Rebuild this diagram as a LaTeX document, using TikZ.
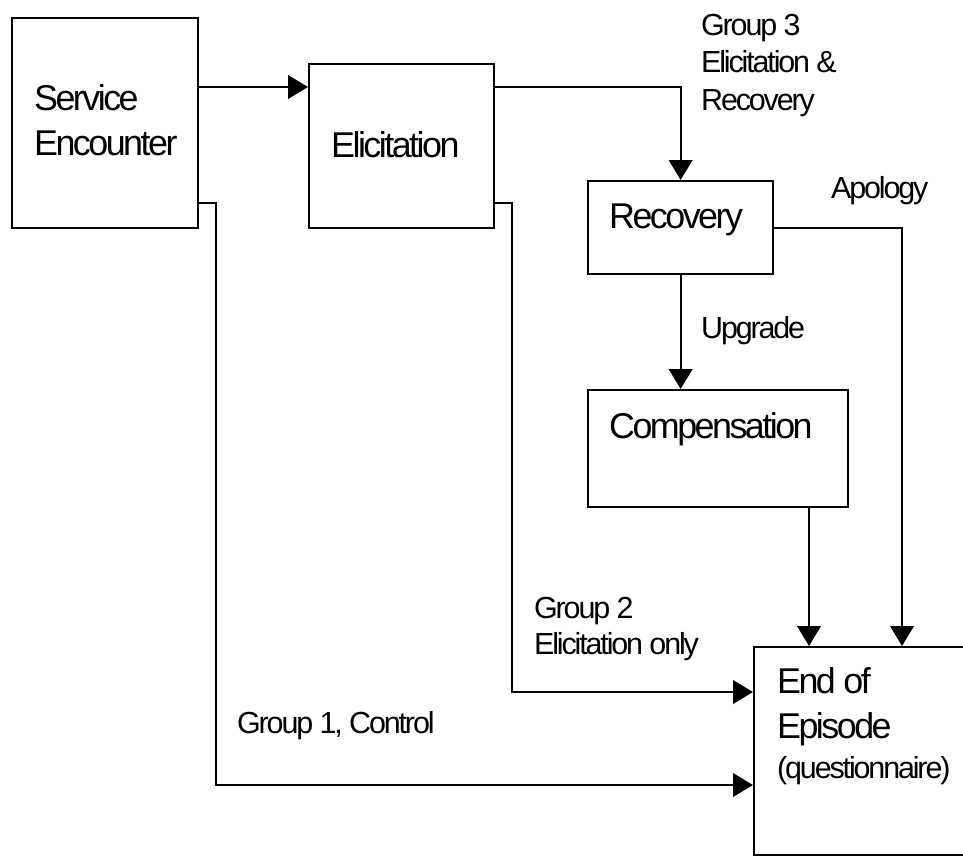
\documentclass[tikz,border=0pt]{standalone}
\usepackage{fontspec}
\setmainfont{Liberation Sans}[LetterSpace=-7]
\usetikzlibrary{arrows.meta}
\newcommand{\boxfont}{\fontsize{30.6pt}{38.4pt}\selectfont}
\newcommand{\tagfont}{\fontsize{26pt}{32pt}\selectfont}

\begin{document}
\begin{tikzpicture}[x=0.03cm,y=-0.03cm,line width=1.9pt,
          box/.style={draw,line width=1.9pt,inner sep=0pt,
                      anchor=north west},
          boxtext/.style={anchor=base west,inner sep=0pt,align=left,
                          font=\boxfont},
          tag/.style={anchor=base west,inner sep=0pt,align=left,
                      font=\tagfont},
          arr/.style={-{Triangle[length=17pt,width=20pt]}}]
        \useasboundingbox (0,0) rectangle (963,855);
        \node[box,minimum width=5.58cm,minimum height=6.3cm](se) at (11,17){};
        \node[box,minimum width=5.55cm,minimum height=4.92cm](el) at (308,63){};
        \node[box,minimum width=5.55cm,minimum height=2.79cm](rec) at (587,180){};
        \node[box,minimum width=7.8cm,minimum height=3.51cm](comp) at (587,389){};
        \node[box,minimum width=6.66cm,minimum height=6.24cm](eoe) at (753,646){};
        \node[boxtext](setext) at (33,155){Service\\Encounter};
        \node[boxtext](eltext) at (330,157){Elicitation};
        \node[boxtext](rectext) at (608,228){Recovery};
        \node[boxtext](comptext) at (608,438){Compensation};
        \node[boxtext](eoetext) at (776,738){End of\\Episode};
        \node[tag](eoenote) at (776,778){(questionnaire)};
        \node[tag](g3) at (700,110){Group 3\\Elicitation \&\\Recovery};
        \node[tag](apology) at (830,198){Apology};
        \node[tag](upgrade) at (700,338){Upgrade};
        \node[tag,font=\fontsize{26pt}{30.7pt}\selectfont](g2) at (533,654)
          {Group 2\\Elicitation only};
        \node[tag](g1) at (236,733){Group 1, Control};
        \draw[arr](se.east |- 0,87)--(el.west |- 0,87);
        \draw[arr](el.east |- 0,87)-|(rec.north);
        \draw[arr](rec.south)--(rec.south |- comp.north);
        \draw[arr](rec.east)-|(eoe.north -| 902,0);
        \draw[arr](comp.south -| 809,0)--(eoe.north -| 809,0);
        \draw[arr](el.east |- 0,203)-|(512,692)--(eoe.west |- 0,692);
        \draw[arr](se.east |- 0,203)-|(216,785)--(eoe.west |- 0,785);
      \end{tikzpicture}
\end{document}
